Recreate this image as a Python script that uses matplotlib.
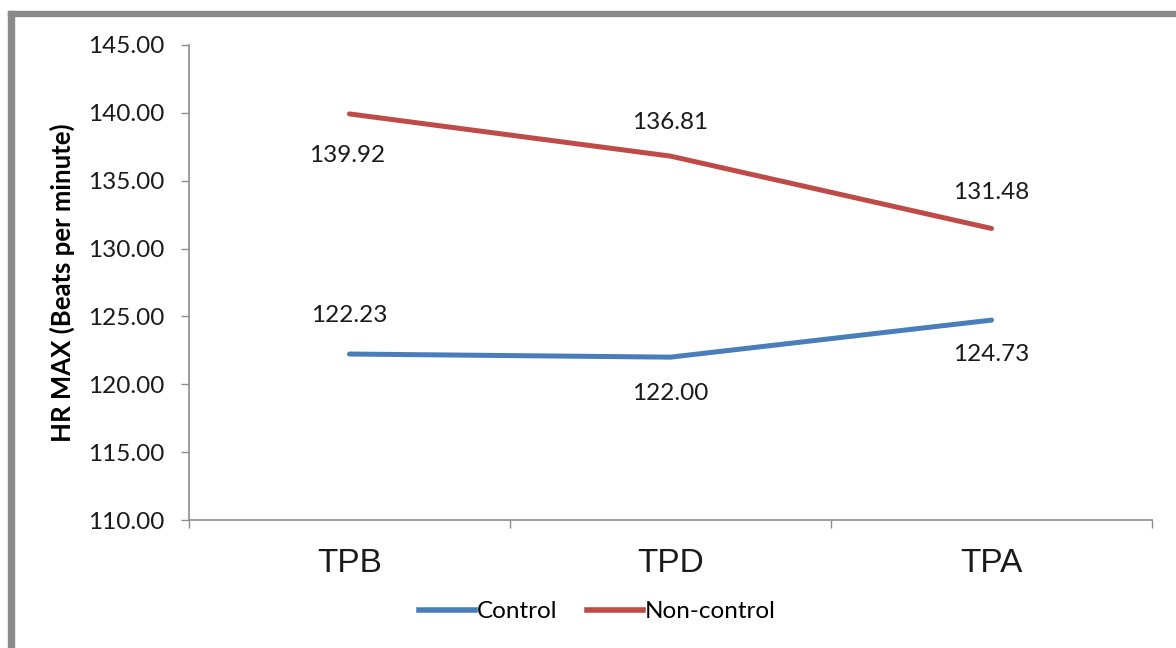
import matplotlib.pyplot as plt
from matplotlib.patches import Rectangle
from matplotlib.lines import Line2D

periods = ['TPB', 'TPD', 'TPA']
control = [122.23, 122.00, 124.73]
non_control = [139.92, 136.81, 131.48]
y_ticks = [110, 115, 120, 125, 130, 135, 140, 145]

blue = '#4a7ebb'
red = '#be4b48'
axis_grey = '#8c8c8c'

plt.rcParams['font.family'] = ['Lato', 'DejaVu Sans']

fig = plt.figure(figsize=(11.76, 6.48), dpi=100)
ax = fig.add_axes([0.1607, 0.1975, 0.8189, 0.7331])

x = range(len(periods))
ax.plot(x, control, color=blue, lw=3.6, solid_capstyle='round', label='Control')
ax.plot(x, non_control, color=red, lw=3.6, solid_capstyle='round', label='Non-control')

# value labels, offset in points (above / below the line)
ctrl_off = [(0, 28), (0, -26), (0, -25)]
nc_off = [(-2, -30), (0, 24), (0, 26)]
for i, v in enumerate(control):
    ax.annotate(f'{v:.2f}', (i, v), xytext=ctrl_off[i], textcoords='offset points',
                ha='center', va='center', fontsize=17.5, color='#1a1a1a')
for i, v in enumerate(non_control):
    ax.annotate(f'{v:.2f}', (i, v), xytext=nc_off[i], textcoords='offset points',
                ha='center', va='center', fontsize=17.5, color='#1a1a1a')

ax.set_xlim(-0.5, len(periods) - 0.5)
ax.set_ylim(110, 145)
ax.set_yticks(y_ticks)
ax.set_yticklabels([f'{t:.2f}' for t in y_ticks], fontsize=17.5, color='#1a1a1a')

# category boundaries get the tick marks, names sit between them
ax.set_xticks([i - 0.5 for i in range(len(periods) + 1)])
ax.set_xticklabels([])
ax.set_xticks(list(x), minor=True)
ax.set_xticklabels(periods, minor=True, fontsize=24, family=['Liberation Sans'], color='#1a1a1a')
ax.tick_params(axis='x', which='major', direction='out', length=6, color=axis_grey, width=1)
ax.tick_params(axis='x', which='minor', length=0, pad=20)
ax.tick_params(axis='y', direction='out', length=6, color=axis_grey, width=1, pad=12)

for side in ['top', 'right']:
    ax.spines[side].set_visible(False)
for side in ['left', 'bottom']:
    ax.spines[side].set_color(axis_grey)
    ax.spines[side].set_linewidth(1.2)

ax.set_ylabel('HR MAX (Beats per minute)', fontsize=18.5, fontweight='bold', labelpad=9)

handles = [Line2D([], [], color=blue, lw=4), Line2D([], [], color=red, lw=4)]
fig.legend(handles, ['Control', 'Non-control'], loc='center', bbox_to_anchor=(0.508, 0.056),
           ncol=2, frameon=False, fontsize=17.5, handlelength=2.3, handletextpad=0.1,
           columnspacing=1.2)

# grey frame along top and left edge
fig.patches.append(Rectangle((8 / 1176, 1 - 16 / 648), 1, 5 / 648, transform=fig.transFigure,
                             color='#8a8a8a', zorder=10))
fig.patches.append(Rectangle((8 / 1176, 0), 6 / 1176, 1 - 11 / 648, transform=fig.transFigure,
                             color='#8a8a8a', zorder=10))

fig.savefig('out.png', dpi=100)
